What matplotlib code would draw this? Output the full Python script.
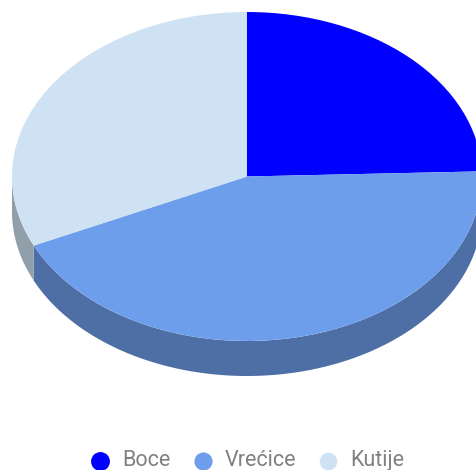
import numpy as np
import matplotlib
matplotlib.use("Agg")
import matplotlib.pyplot as plt

labels = ["Boce", "Vrećice", "Kutije"]
values = [24.5, 43.6, 31.9]
colors = ["#0000ff", "#6d9eeb", "#cfe2f3"]
side_colors = ["#0000b3", "#4d6fa5", "#919fab"]

W, H = 477, 470
cx, cy = 247, 176.5
rx, ry = 235, 164.5
depth = 35

fig = plt.figure(figsize=(W / 100, H / 100), dpi=100)
ax = fig.add_axes([0, 0, 1, 1])

# pie drawn in unit circle, then axes limits squash it into an ellipse
ax.pie(values, colors=colors, startangle=90, counterclock=False, radius=1,
       wedgeprops={"linewidth": 0, "zorder": 3})
ax.set_aspect("auto")
ax.set_xlim(-cx / rx, (W - cx) / rx)
ax.set_ylim(-(H - cy) / ry, cy / ry)
d = depth / ry

# extruded side, only the front half of the rim is visible
ends = np.cumsum(values) / sum(values) * 360
starts = np.r_[0, ends[:-1]]
for a0, a1, c in zip(starts, ends, side_colors):
    a0 = max(a0, 90)
    a1 = min(a1, 270)
    if a1 <= a0:
        continue
    t = np.radians(np.linspace(a0, a1, 200))
    x = np.sin(t)
    y = np.cos(t)
    ax.fill(np.r_[x, x[::-1]], np.r_[y, y[::-1] - d], color=c, lw=0, zorder=2)

# legend
leg_y = 460.5
for lx, tx, name, c, s in zip([100, 203, 328], [122, 225, 350], labels, colors, [185, 170, 160]):
    ax.scatter((lx - cx) / rx, (cy - leg_y) / ry, s=s, color=c, lw=0, zorder=4)
    ax.text((tx - cx) / rx, (cy - leg_y) / ry, name, fontsize=15.5, color="#808080",
            family="Roboto", va="center", ha="left")

fig.savefig("out.png", dpi=100)
